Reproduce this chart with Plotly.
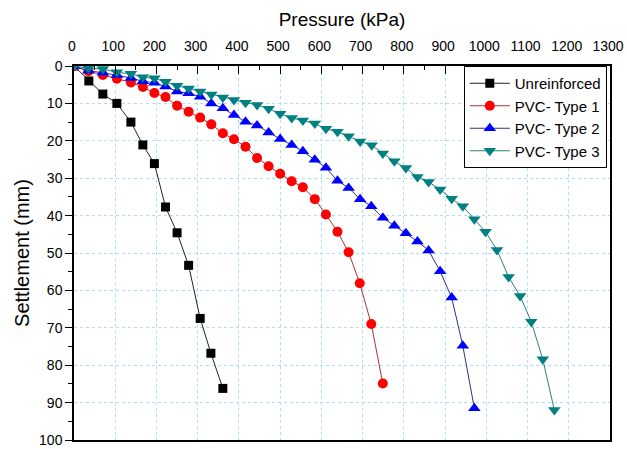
import plotly.graph_objects as go

unr_p = [0, 36, 70, 104, 138, 167, 195, 222, 250, 278, 306, 332, 361]
unr_s = [0, 4.0, 7.5, 10.0, 15.0, 21.1, 26.1, 37.7, 44.6, 53.3, 67.5, 76.8, 86.2]

t1_p = [0, 35, 70, 104, 138, 167, 195, 222, 250, 278, 306, 333, 361, 388, 416,
        444, 472, 500, 528, 555, 584, 611, 639, 666, 693, 721, 749]
t1_s = [0, 1.4, 2.4, 3.4, 4.4, 5.6, 7.2, 8.3, 10.6, 12.2, 13.8, 15.6, 18.0, 19.6, 21.6,
        24.6, 26.8, 28.8, 30.8, 32.4, 35.6, 39.7, 44.3, 49.8, 58.1, 69.0, 84.9]

t2_p = [0, 35, 70, 104, 138, 167, 195, 222, 250, 278, 306, 333, 361, 388, 416,
        444, 472, 500, 528, 555, 584, 611, 639, 666, 694, 721, 749, 777, 805, 833,
        860, 888, 916, 943, 971]
t2_s = [0, 1.3, 1.8, 2.4, 3.2, 4.1, 4.5, 5.5, 6.8, 7.3, 8.2, 10.0, 11.3, 13.1, 14.9,
        15.9, 17.8, 19.5, 21.1, 22.8, 25.1, 27.2, 30.7, 32.6, 35.6, 37.5, 40.6, 42.7, 44.7, 46.9,
        49.3, 54.9, 61.9, 74.8, 91.5]

t3_p = [0, 35, 70, 104, 138, 167, 195, 222, 250, 278, 306, 333, 361, 388, 416,
        444, 472, 500, 528, 555, 584, 611, 639, 666, 694, 722, 749, 777, 805, 833,
        860, 888, 916, 943, 971, 998, 1026, 1054, 1082, 1109, 1137, 1165]
t3_s = [0, 0.6, 0.8, 1.7, 2.1, 3.0, 3.3, 4.2, 5.3, 6.0, 6.8, 7.6, 8.4, 9.1, 9.8,
        10.4, 11.4, 12.8, 13.9, 14.6, 15.4, 16.8, 17.6, 18.8, 20.2, 21.2, 23.4, 25.5, 27.3, 29.7,
        31.0, 33.0, 35.5, 37.5, 41.0, 44.3, 49.2, 56.4, 61.5, 68.4, 78.4, 92.0]

x_ticks = list(range(0, 1301, 100))
y_ticks = list(range(0, 101, 10))

series = [
    ("Unreinforced", unr_p, unr_s, "square", "#000000", "#222222", 9),
    ("PVC- Type 1", t1_p, t1_s, "circle", "#ff0000", "#b03030", 10),
    ("PVC- Type 2", t2_p, t2_s, "triangle-up", "#0000ff", "#303080", 11),
    ("PVC- Type 3", t3_p, t3_s, "triangle-down", "#008080", "#2a8080", 11),
]

fig = go.Figure()
for name, xp, ys, sym, mc, lc, ms in series:
    fig.add_trace(go.Scatter(
        x=xp, y=ys, name=name, mode="lines+markers",
        line=dict(color=lc, width=1),
        marker=dict(symbol=sym, color=mc, size=ms, line=dict(width=0)),
    ))

font_family = "Liberation Sans, Arial, sans-serif"
grid_color = "#a8e4f0"

fig.update_layout(
    width=627, height=449,
    margin=dict(l=74, r=17, t=66, b=9, autoexpand=False),
    paper_bgcolor="white", plot_bgcolor="white",
    font=dict(family=font_family, size=14, color="black"),
    showlegend=True,
    legend=dict(
        x=0.994, y=1.0, xanchor="right", yanchor="top",
        bordercolor="black", borderwidth=1, bgcolor="white",
        font=dict(size=15), tracegroupgap=0, itemwidth=40,
    ),
    xaxis=dict(
        side="top", range=[0, 1300], tickvals=x_ticks,
        ticks="inside", ticklen=8, tickwidth=1, tickcolor="black",
        minor=dict(ticks="inside", ticklen=4, dtick=50, tickcolor="black", showgrid=False),
        showline=True, linecolor="black", linewidth=1.5, mirror=True,
        showgrid=True, gridcolor=grid_color, griddash="dot", gridwidth=1,
        zeroline=False, ticklabelstandoff=8, automargin=False,
        ticklabeloverflow="allow", ticklabelshift=-2,
        title=dict(text="Pressure (kPa)", font=dict(size=19), standoff=6),
        tickfont=dict(size=14),
    ),
    yaxis=dict(
        range=[100, 0], tickvals=y_ticks,
        ticks="outside", ticklen=7, tickwidth=1, tickcolor="black",
        minor=dict(ticks="outside", ticklen=4, dtick=5, tickcolor="black", showgrid=False),
        showline=True, linecolor="black", linewidth=1.5, mirror=True,
        showgrid=True, gridcolor=grid_color, griddash="dot", gridwidth=1,
        zeroline=False, automargin=False,
        title=dict(text="Settlement (mm)", font=dict(size=20), standoff=4),
        tickfont=dict(size=14),
    ),
)

fig.write_html("out.html", config={"displayModeBar": False},
               post_script="document.body.style.margin='0';")
